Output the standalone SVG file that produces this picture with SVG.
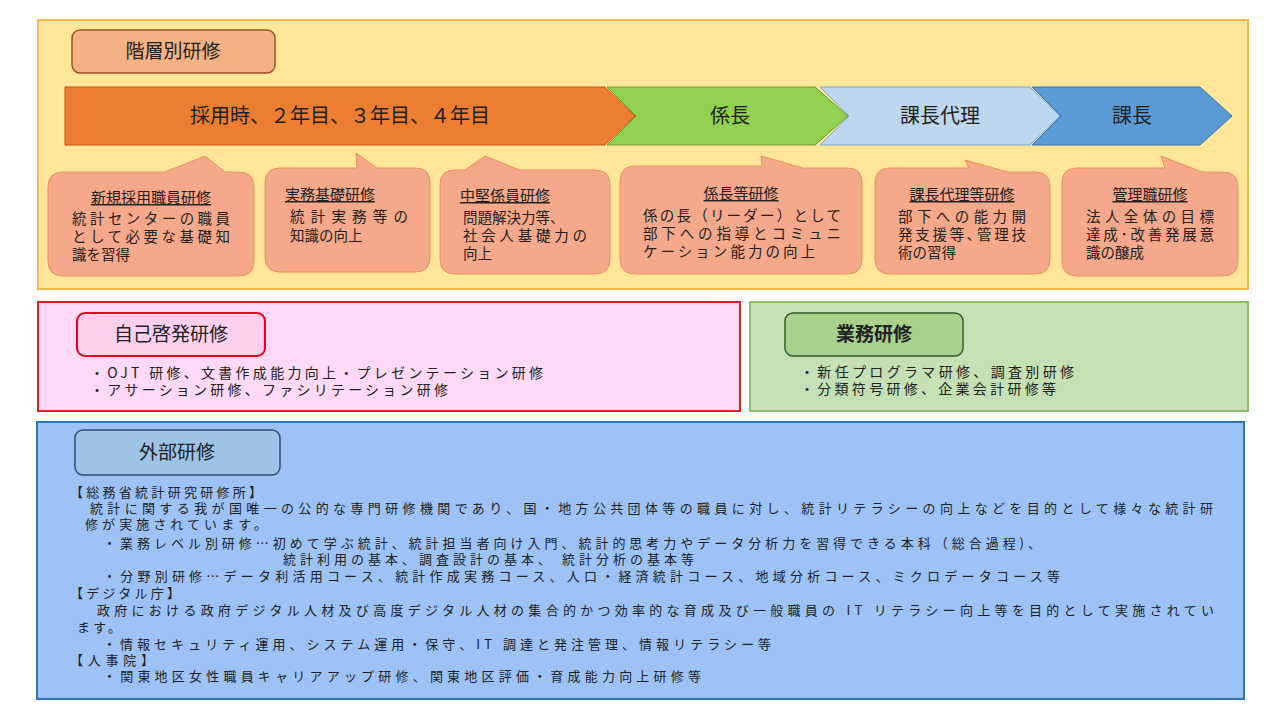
<svg xmlns="http://www.w3.org/2000/svg" width="1280" height="720" viewBox="0 0 1280 720">
<style>
text{font-family:"Noto Sans CJK JP","Noto Sans",sans-serif;fill:#222}
.co{fill:#F5A88A;stroke:#E8905F;stroke-width:1}
.ct{font-size:15px;text-decoration:underline;text-anchor:middle}
.cb{font-size:14.5px}
.bt{font-size:14px}
.gt{font-size:13px}
.ar{font-size:20px;text-anchor:middle}
.lb{font-size:19px;text-anchor:middle;font-weight:bold}
</style>
<rect width="1280" height="720" fill="#fff"/>
<g id="panel-kaisou">
<rect x="38" y="20" width="1210" height="269" fill="#FFE699" stroke="#F2B84B" stroke-width="2"/>
<rect x="72" y="30" width="203" height="43" rx="8" fill="#F4B183" stroke="#A0522D" stroke-width="1.5"/>
<text class="lb" x="173" y="58" style="font-weight:normal">階層別研修</text>
</g>
<g id="arrows">
<polygon points="65,87 605,87 635,116 605,145 65,145" fill="#ED7D31" stroke="#C55A11"/>
<text class="ar" x="340" y="123">採用時、２年目、３年目、４年目</text>
<polygon points="607,87 815,87 848,116 815,145 607,145 636,116" fill="#92D050" stroke="#6A9E2E"/>
<text class="ar" x="730" y="123">係長</text>
<polygon points="820,87 1030,87 1060,116 1030,145 820,145 849,116" fill="#BDD7EE" stroke="#7FA7CC"/>
<text class="ar" x="940" y="123">課長代理</text>
<polygon points="1032,87 1200,87 1232,116 1200,145 1032,145 1061,116" fill="#5B9BD5" stroke="#2E75B6"/>
<text class="ar" x="1132" y="123">課長</text>
</g>
<g id="callout1">
<path class="co" d="M63,172 H165 L205,156 L225,172 H239 Q254,172 254,187 V261 Q254,276 239,276 H63 Q48,276 48,261 V187 Q48,172 63,172 Z"/>
<text class="ct" x="151" y="203">新規採用職員研修</text>
<text class="cb" x="72" y="224" textLength="158" lengthAdjust="spacing">統計センターの職員</text>
<text class="cb" x="72" y="242" textLength="158" lengthAdjust="spacing">として必要な基礎知</text>
<text class="cb" x="72" y="260">識を習得</text>
</g>
<g id="callout2">
<path class="co" d="M280,168 H357 L356,153 L377,168 H415 Q430,168 430,183 V257 Q430,272 415,272 H280 Q265,272 265,257 V183 Q265,168 280,168 Z"/>
<text class="ct" x="330" y="200">実務基礎研修</text>
<text class="cb" x="290" y="222" textLength="118" lengthAdjust="spacing">統計実務等の</text>
<text class="cb" x="290" y="241">知識の向上</text>
</g>
<g id="callout3">
<path class="co" d="M455,170 H465 L485,156 L520,170 H595 Q610,170 610,185 V259 Q610,274 595,274 H455 Q440,274 440,259 V185 Q440,170 455,170 Z"/>
<text class="ct" x="505" y="201">中堅係員研修</text>
<text class="cb" x="463" y="223">問題解決力等、</text>
<text class="cb" x="463" y="241" textLength="124" lengthAdjust="spacing">社会人基礎力の</text>
<text class="cb" x="463" y="259">向上</text>
</g>
<g id="callout4">
<path class="co" d="M635,166 H762 L761,156 L803,168 H847 Q862,168 862,183 V259 Q862,274 847,274 H635 Q620,274 620,259 V181 Q620,166 635,166 Z"/>
<text class="ct" x="741" y="199">係長等研修</text>
<text class="cb" x="643" y="221" textLength="198" lengthAdjust="spacing">係の長（リーダー）として</text>
<text class="cb" x="643" y="239" textLength="198" lengthAdjust="spacing">部下への指導とコミュニ</text>
<text class="cb" x="643" y="257" textLength="172" lengthAdjust="spacing">ケーション能力の向上</text>
</g>
<g id="callout5">
<path class="co" d="M890,168 H969 L965,160 L1008,172 H1035 Q1050,172 1050,187 V259 Q1050,274 1035,274 H890 Q875,274 875,259 V183 Q875,168 890,168 Z"/>
<text class="ct" x="962" y="200">課長代理等研修</text>
<text class="cb" x="898" y="222" textLength="128" lengthAdjust="spacing">部下への能力開</text>
<text class="cb" x="898" y="240" textLength="128" lengthAdjust="spacing">発支援等､管理技</text>
<text class="cb" x="898" y="258">術の習得</text>
</g>
<g id="callout6">
<path class="co" d="M1077,168 H1165 L1161,156 L1202,172 H1223 Q1238,172 1238,187 V261 Q1238,276 1223,276 H1077 Q1062,276 1062,261 V183 Q1062,168 1077,168 Z"/>
<text class="ct" x="1150" y="200">管理職研修</text>
<text class="cb" x="1086" y="222" textLength="128" lengthAdjust="spacing">法人全体の目標</text>
<text class="cb" x="1086" y="240" textLength="128" lengthAdjust="spacing">達成･改善発展意</text>
<text class="cb" x="1086" y="258">識の醸成</text>
</g>
<g id="panel-jiko">
<rect x="38" y="302" width="702" height="109" fill="#FFD9F6" stroke="#E02020" stroke-width="2"/>
<rect x="77" y="313" width="188" height="43" rx="8" fill="#FFD0EE" stroke="#E8001C" stroke-width="2"/>
<text class="lb" x="171" y="341" style="font-weight:normal">自己啓発研修</text>
<text class="bt" x="90" y="378" textLength="453" lengthAdjust="spacing">・OJT 研修、文書作成能力向上・プレゼンテーション研修</text>
<text class="bt" x="90" y="395" textLength="358" lengthAdjust="spacing">・アサーション研修、ファシリテーション研修</text>
</g>
<g id="panel-gyomu">
<rect x="750" y="302" width="498" height="109" fill="#C5E0B4" stroke="#8DBF6A" stroke-width="2"/>
<rect x="785" y="313" width="178" height="43" rx="8" fill="#A9D18E" stroke="#3A5A2A" stroke-width="1.5"/>
<text class="lb" x="874" y="341">業務研修</text>
<text class="bt" x="800" y="377" textLength="274" lengthAdjust="spacing">・新任プログラマ研修、調査別研修</text>
<text class="bt" x="800" y="394" textLength="256" lengthAdjust="spacing">・分類符号研修、企業会計研修等</text>
</g>
<g id="panel-gaibu">
<rect x="37" y="422" width="1207" height="277" fill="#9DC3F6" stroke="#2E75B6" stroke-width="2"/>
<rect x="75" y="430" width="205" height="45" rx="8" fill="#9DC3E6" stroke="#2F4F6F" stroke-width="1.5"/>
<text class="lb" x="177" y="459" style="font-weight:normal">外部研修</text>
<text class="gt" x="70" y="497" textLength="192" lengthAdjust="spacing">【総務省統計研究研修所】</text>
<text class="gt" x="90" y="513" textLength="1123" lengthAdjust="spacing">統計に関する我が国唯一の公的な専門研修機関であり、国・地方公共団体等の職員に対し、統計リテラシーの向上などを目的として様々な統計研</text>
<text class="gt" x="85" y="529" textLength="182" lengthAdjust="spacing">修が実施されています。</text>
<text class="gt" x="103" y="548" textLength="938" lengthAdjust="spacing">・業務レベル別研修…初めて学ぶ統計、統計担当者向け入門、統計的思考力やデータ分析力を習得できる本科（総合過程)、</text>
<text class="gt" x="283" y="564" textLength="411" lengthAdjust="spacing">統計利用の基本、調査設計の基本、 統計分析の基本等</text>
<text class="gt" x="103" y="581" textLength="957" lengthAdjust="spacing">・分野別研修…データ利活用コース、統計作成実務コース、人口・経済統計コース、地域分析コース、ミクロデータコース等</text>
<text class="gt" x="70" y="598" textLength="110" lengthAdjust="spacing">【デジタル庁】</text>
<text class="gt" x="97" y="615" textLength="1117" lengthAdjust="spacing">政府における政府デジタル人材及び高度デジタル人材の集合的かつ効率的な育成及び一般職員の IT リテラシー向上等を目的として実施されてい</text>
<text class="gt" x="77" y="632" textLength="44" lengthAdjust="spacing">ます。</text>
<text class="gt" x="103" y="649" textLength="668" lengthAdjust="spacing">・情報セキュリティ運用、システム運用・保守、IT 調達と発注管理、情報リテラシー等</text>
<text class="gt" x="70" y="665" textLength="84" lengthAdjust="spacing">【人事院】</text>
<text class="gt" x="103" y="681" textLength="598" lengthAdjust="spacing">・関東地区女性職員キャリアアップ研修、関東地区評価・育成能力向上研修等</text>
</g>
</svg>
